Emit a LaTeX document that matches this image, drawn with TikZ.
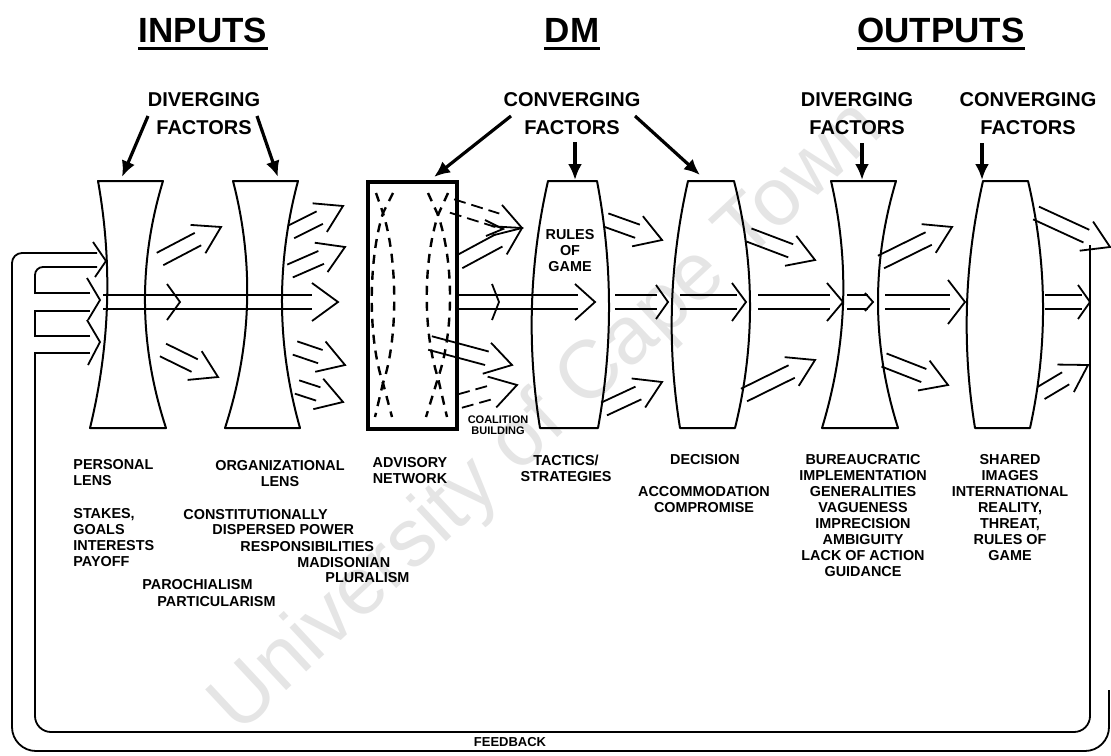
\documentclass[tikz,border=0pt]{standalone}
\usepackage{fontspec}
\setmainfont{Liberation Sans}
\usetikzlibrary{positioning}
\usetikzlibrary{arrows.meta}
\usetikzlibrary{calc}
\tikzset{lens/.style={draw,line width=1pt,line join=round}}
\tikzset{flow/.style={line width=0.9pt}}
\tikzset{dashflow/.style={flow,dash pattern=on 6pt off 3pt}}
\tikzset{lensdash/.style={line width=1.2pt,dash pattern=on 4.5pt off 3.5pt}}
\tikzset{factor/.style={line width=1.6pt,-{Latex[length=8pt,width=7pt]}}}
\tikzset{title/.style={font=\fontsize{17.5}{20}\selectfont\bfseries,inner sep=0pt}}
\tikzset{heading/.style={font=\fontsize{10}{14}\selectfont\bfseries,align=center,inner sep=0pt}}
\tikzset{caption/.style={font=\fontsize{7.2}{8}\selectfont\bfseries,align=center,inner sep=0pt}}
% lens: top left x, top right x, bottom left x, bottom right x, middle left x, middle right x
\newcommand{\lensshape}[6]{%
  \draw[lens] (#1,181) -- (#2,181)
    .. controls ({(4*#6-#4)/3},263.3) and ({(4*#6-#2)/3},345.7) .. (#4,428)
    -- (#3,428)
    .. controls ({(4*#5-#1)/3},345.7) and ({(4*#5-#3)/3},263.3) .. cycle;
}
% hollow arrow: two lines and an open head
\newcommand{\hollowarrow}[3][]{%
  \coordinate (ha) at #2;
  \coordinate (hb) at #3;
  \coordinate (hc) at ($(hb)!13pt!(ha)$);
  \draw[flow,#1] ($(ha)!3.5pt!90:(hb)$) -- ($(hc)!3.5pt!-90:(ha)$);
  \draw[flow,#1] ($(ha)!3.5pt!-90:(hb)$) -- ($(hc)!3.5pt!90:(ha)$);
  \draw[flow] ($(hc)!8pt!90:(ha)$) -- (hb) -- ($(hc)!8pt!-90:(ha)$);
}
\begin{document}
\begin{tikzpicture}[x=0.5pt,y=-0.5pt]
\useasboundingbox (0,0) rectangle (1111,755);
% watermark
\node[font=\fontsize{41}{41}\selectfont,text=black!10,rotate=43] (watermark) at (548,418) {University of Cape Town};

% titles
\node[title] (inputs) at (203,30) {INPUTS};
\node[title] (dm) at (572,30) {DM};
\node[title] (outputs) at (941,30) {OUTPUTS};
\draw[line width=1.5pt] ([yshift=-3pt]inputs.south west) -- ([yshift=-3pt]inputs.south east);
\draw[line width=1.5pt] ([yshift=-3pt]dm.south west) -- ([yshift=-3pt]dm.south east);
\draw[line width=1.5pt] ([yshift=-3pt]outputs.south west) -- ([yshift=-3pt]outputs.south east);

% factors
\node[heading] (divin) at (204,114) {DIVERGING\\FACTORS};
\node[heading] (convdm) at (572,114) {CONVERGING\\FACTORS};
\node[heading] (divout) at (857,114) {DIVERGING\\FACTORS};
\node[heading] (convout) at (1028,114) {CONVERGING\\FACTORS};
\draw[factor] (148,116) -- (122,177);
\draw[factor] (257,116) -- (278,177);
\draw[factor] (511,116) -- (434,177);
\draw[factor] (575,142) -- (575,180);
\draw[factor] (635,116) -- (700,175);
\draw[factor] (862,143) -- (862,180);
\draw[factor] (982,143) -- (982,180);

% lenses
\lensshape{98}{163}{90}{166}{107}{145}
\lensshape{233}{298}{225}{300}{247}{282}
\lensshape{548}{597}{540}{598}{532}{609}
\lensshape{688}{734}{680}{735}{672}{750}
\lensshape{831}{896}{822}{898}{843}{878}
\lensshape{983}{1028}{975}{1030}{967}{1043}

% advisory network
\draw[line width=1.6pt] (368,182) rectangle (457,429);
\draw[lensdash] (376,193) -- (383,213) .. controls (368,260) and (368,340) .. (383,383) -- (375,417);
\draw[lensdash] (393,193) -- (383,213) .. controls (398,260) and (398,340) .. (383,383) -- (392,417);
\draw[lensdash] (428,193) -- (438,215) .. controls (423,262) and (423,332) .. (438,378) -- (426,417);
\draw[lensdash] (448,193) -- (438,215) .. controls (454,262) and (454,332) .. (438,378) -- (447,417);

% feedback loop
\draw[flow,rounded corners=12pt] (1109,690) -- (1109,751) -- (12,751) -- (12,400);
\draw[flow,rounded corners=5pt] (12,400) -- (12,253) -- (97,253);
\draw[flow,rounded corners=8pt] (1090,245) -- (1090,732) -- (35,732) -- (35,500);
\draw[flow] (35,500) -- (35,353) -- (90,353);
\draw[flow] (90,336) -- (35,336) -- (35,311) -- (90,311);
\draw[flow] (90,293) -- (35,293) -- (35,280);
\draw[flow,rounded corners=4pt] (35,280) -- (35,267) -- (97,267);
\draw[flow] (93,242) -- (106,261) -- (95,277);
\draw[flow] (87,278) -- (100,300) -- (88,320);
\draw[flow] (87,320) -- (100,342) -- (88,365);
\node[caption,font=\fontsize{6.5}{7}\selectfont\bfseries] (feedback) at (510,742) {FEEDBACK};

% main stream
\draw[flow] (103,295) -- (312,295) (103,309) -- (312,309);
\draw[flow] (167,284) -- (180,302) -- (167,320);
\draw[flow] (312,283) -- (338,302) -- (312,321);
\draw[flow] (492,284) -- (499,302) -- (492,320);
\foreach \xa/\xb/\tp/\bk/\spr in {458/578/595/20/18, 615/657/668/12/17, 680/737/746/14/19,
    758/830/843/16/19, 847/868/873/8/9, 885/950/965/17/22, 1045/1082/1090/12/17}{
  \draw[flow] (\xa,295) -- (\xb,295) (\xa,309) -- (\xb,309);
  \draw[flow] (\tp-\bk,302-\spr) -- (\tp,302) -- (\tp-\bk,302+\spr);
}

% side streams
\hollowarrow{(160,259)}{(221,227)}
\hollowarrow{(163,350)}{(218,377)}
\hollowarrow{(291,232)}{(343,206)}
\hollowarrow{(290,271)}{(345,247)}
\hollowarrow{(295,348)}{(345,365)}
\hollowarrow{(297,387)}{(343,402)}
\hollowarrow[dashflow]{(452,206)}{(522,228)}
\draw[flow] (485,220) -- (503,229) -- (486,236);
\hollowarrow{(459,262)}{(522,228)}
\hollowarrow{(430,343)}{(512,365)}
\hollowarrow[dashflow]{(460,401)}{(517,385)}
\hollowarrow{(606,220)}{(662,240)}
\hollowarrow{(604,409)}{(662,382)}
\hollowarrow{(749,235)}{(815,260)}
\hollowarrow{(744,395)}{(815,360)}
\hollowarrow{(881,262)}{(952,227)}
\hollowarrow{(884,360)}{(948,385)}
\hollowarrow{(1036,213)}{(1110,247)}
\hollowarrow{(1041,393)}{(1088,365)}

% captions
\node[caption] (rules) at (570,251) {RULES\\OF\\GAME};
\node[caption,font=\fontsize{5.5}{5.5}\selectfont\bfseries] (coalition) at (498,425) {COALITION\\BUILDING};
\node[caption,align=left,anchor=west] (personal) at (73,473) {PERSONAL\\LENS};
\node[caption,align=left,anchor=west] (stakes) at (73,538) {STAKES,\\GOALS\\INTERESTS\\PAYOFF};
\node[caption] (orglens) at (280,474) {ORGANIZATIONAL\\LENS};
\node[caption,anchor=west] (constit) at (183,515) {CONSTITUTIONALLY};
\node[caption,anchor=west] (dispersed) at (212,530) {DISPERSED POWER};
\node[caption,anchor=west] (respons) at (240,547) {RESPONSIBILITIES};
\node[caption,anchor=west] (madison) at (297,563) {MADISONIAN};
\node[caption,anchor=west] (pluralism) at (325,578) {PLURALISM};
\node[caption,anchor=west] (parochial) at (142,585) {PAROCHIALISM};
\node[caption,anchor=west] (particular) at (157,602) {PARTICULARISM};
\node[caption] (advisory) at (410,471) {ADVISORY\\NETWORK};
\node[caption] (tactics) at (566,468) {TACTICS/\\STRATEGIES};
\node[caption] (decision) at (705,460) {DECISION};
\node[caption] (accom) at (704,500) {ACCOMMODATION\\COMPROMISE};
\node[caption] (bureau) at (863,516) {BUREAUCRATIC\\IMPLEMENTATION\\GENERALITIES\\VAGUENESS\\IMPRECISION\\AMBIGUITY\\LACK OF ACTION\\GUIDANCE};
\node[caption] (shared) at (1010,508) {SHARED\\IMAGES\\INTERNATIONAL\\REALITY,\\THREAT,\\RULES OF\\GAME};
\end{tikzpicture}
\end{document}
